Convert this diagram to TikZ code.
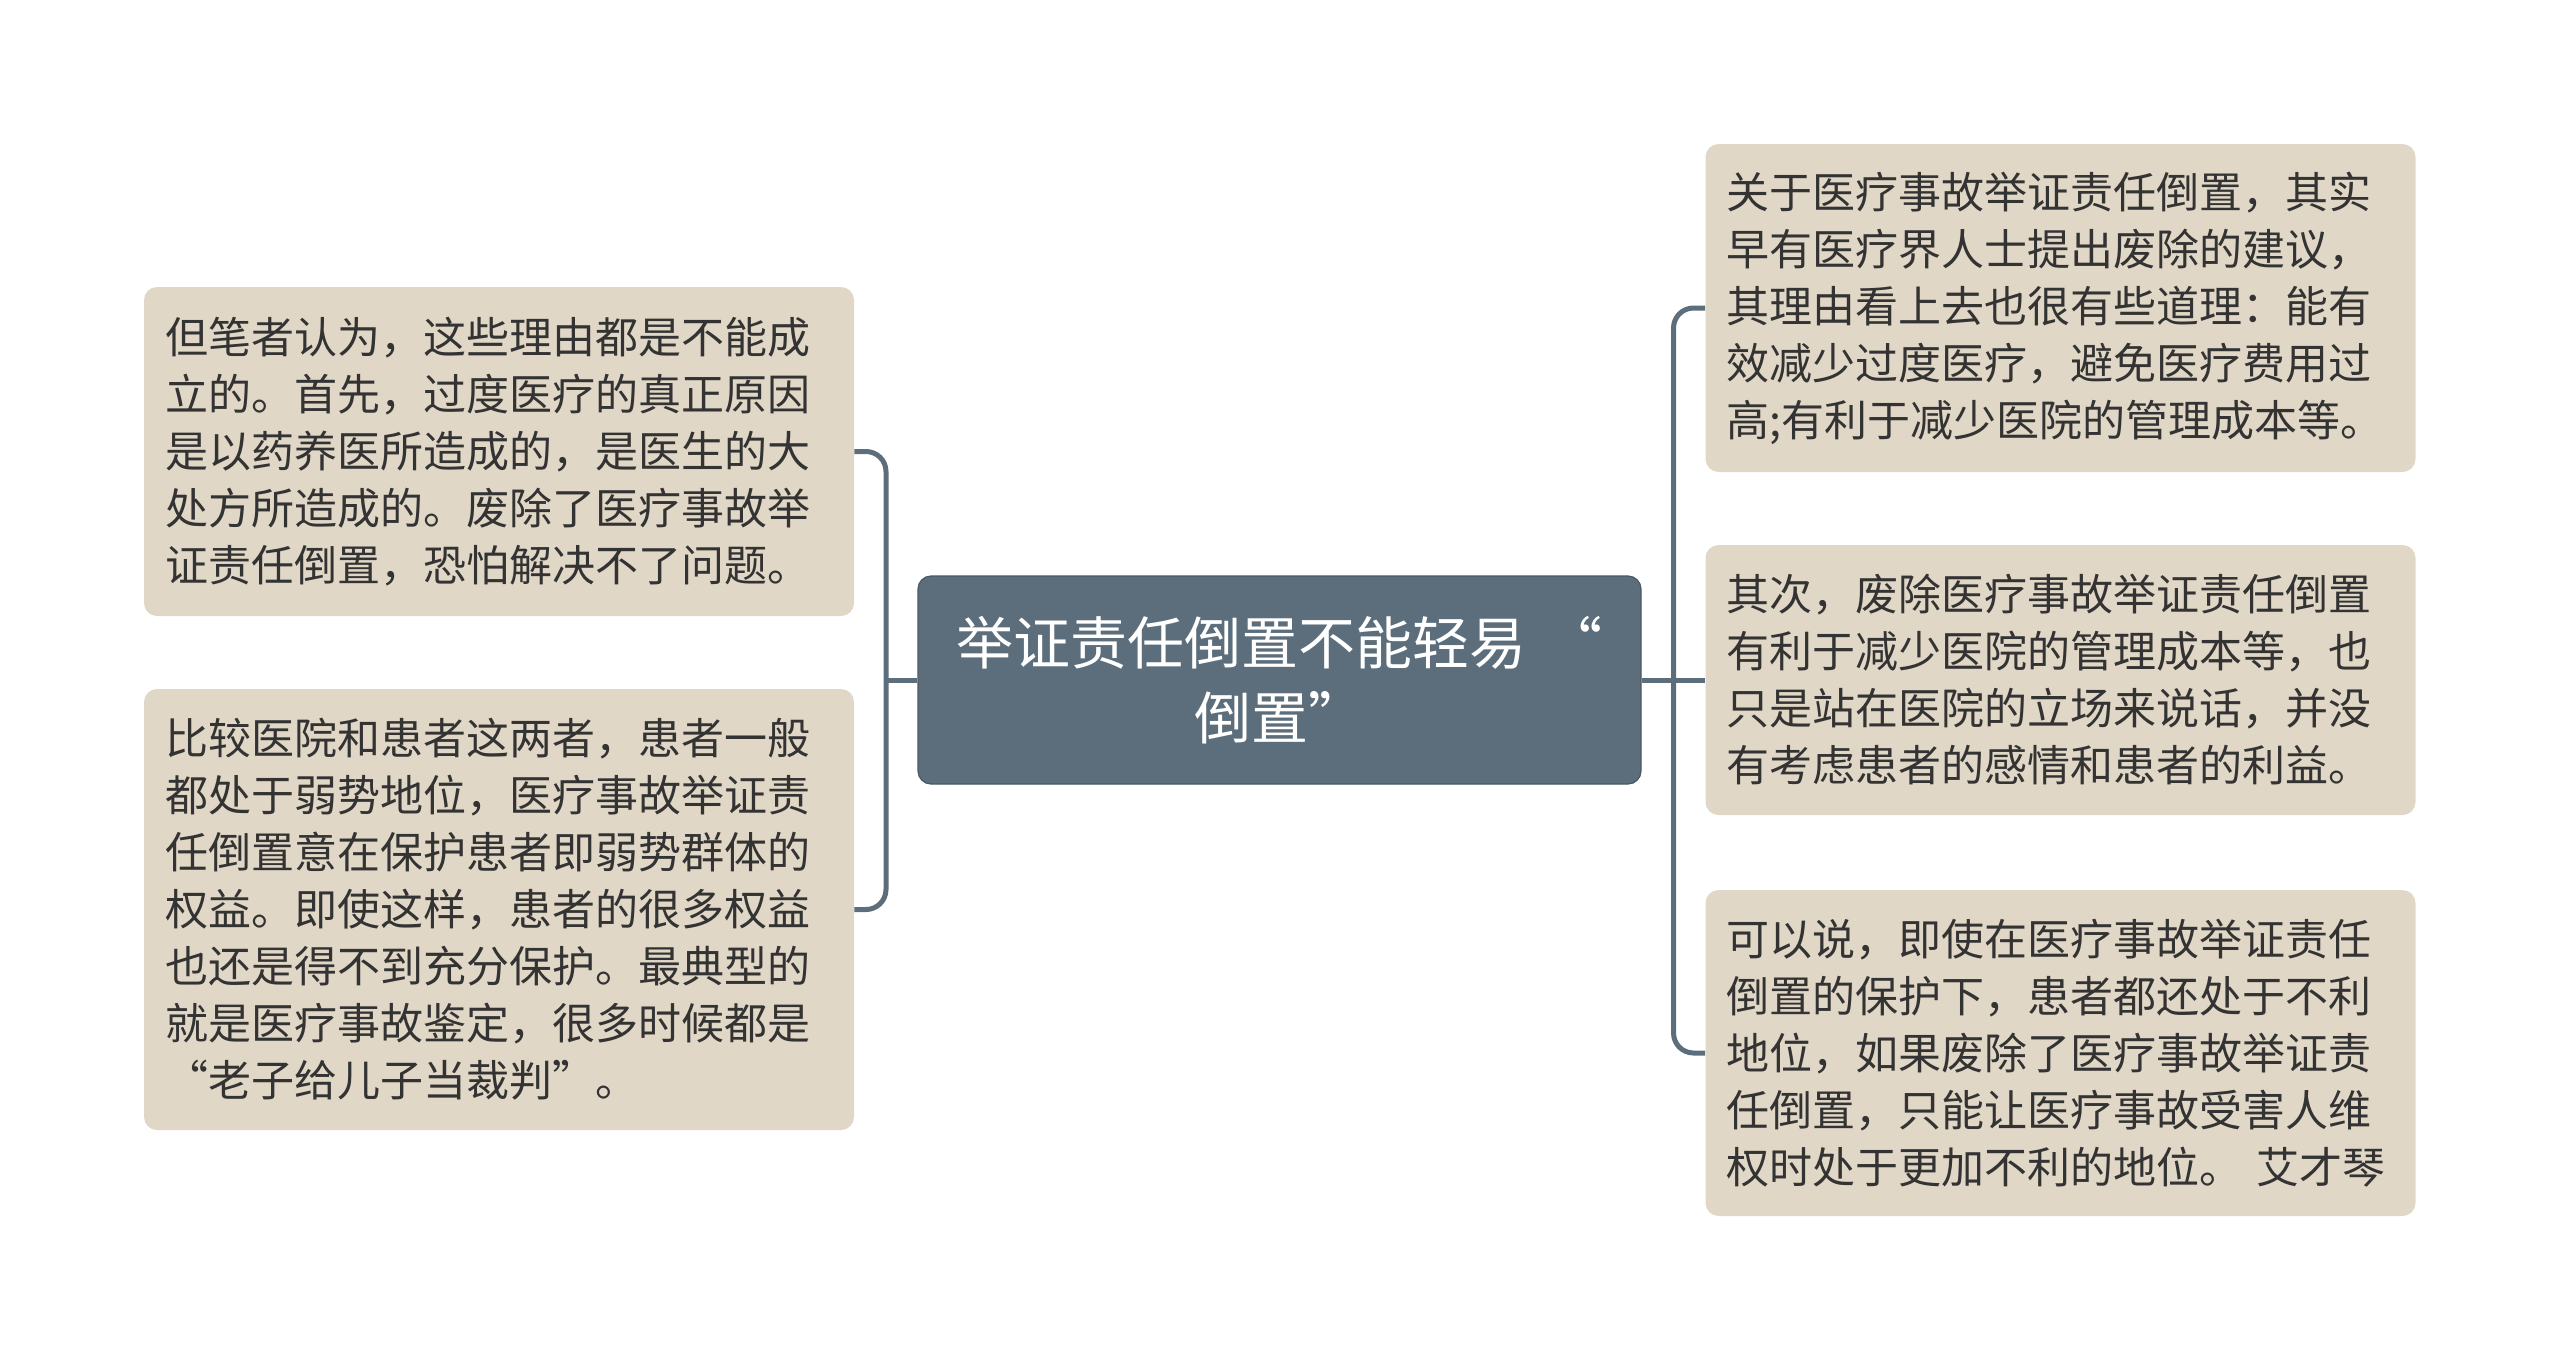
\documentclass[tikz,border=0pt]{standalone}
\usepackage{fontspec}
\newfontfamily\cjk{Noto Sans CJK SC}
\usepackage{tikz}
\usetikzlibrary{positioning}
\usetikzlibrary{calc}
\definecolor{leafFill}{HTML}{E1D7C6}
\definecolor{rootFill}{HTML}{5C6E7B}
\definecolor{linkCol}{HTML}{5C6E7B}
\definecolor{textCol}{HTML}{333333}
\tikzset{myboxLeaf/.style={fill=leafFill, rounded corners=6.5pt, text=textCol, align=left, inner xsep=10.5pt, text width=334pt, font=\cjk\fontsize{21.5pt}{28.5pt}\selectfont}}
\tikzset{myboxRoot/.style={fill=rootFill, draw=rootFill!80!black, line width=0.6pt, rounded corners=6.5pt, text=white, align=center, inner xsep=15.75pt, text width=330pt, minimum height=104pt, font=\cjk\fontsize{28.5pt}{37.5pt}\selectfont}}
\tikzset{myline/.style={draw=linkCol, line width=2.5pt, rounded corners=10pt}}

\begin{document}
\begin{tikzpicture}[x=0.5pt, y=-0.5pt]

\useasboundingbox (0,0) rectangle (2560,1361);

\node[myboxRoot] (root) at (1279.5, 680) {举证责任倒置不能轻易 “\\倒置”};

\node[myboxLeaf, minimum height=164.5pt] (l1) at (499, 451.5) {但笔者认为，这些理由都是不能成\\立的。首先，过度医疗的真正原因\\是以药养医所造成的，是医生的大\\处方所造成的。废除了医疗事故举\\证责任倒置，恐怕解决不了问题。};
\node[myboxLeaf, minimum height=220.5pt] (l2) at (499, 909.5) {比较医院和患者这两者，患者一般\\都处于弱势地位，医疗事故举证责\\任倒置意在保护患者即弱势群体的\\权益。即使这样，患者的很多权益\\也还是得不到充分保护。最典型的\\就是医疗事故鉴定，很多时候都是\\“老子给儿子当裁判”。};

\node[myboxLeaf, minimum height=164pt] (r1) at (2060.5, 308) {关于医疗事故举证责任倒置，其实\\早有医疗界人士提出废除的建议，\\其理由看上去也很有些道理：能有\\效减少过度医疗，避免医疗费用过\\高;有利于减少医院的管理成本等。};
\node[myboxLeaf, minimum height=135pt] (r2) at (2060.5, 680) {其次，废除医疗事故举证责任倒置\\有利于减少医院的管理成本等，也\\只是站在医院的立场来说话，并没\\有考虑患者的感情和患者的利益。};
\node[myboxLeaf, minimum height=163pt] (r3) at (2060.5, 1053) {可以说，即使在医疗事故举证责任\\倒置的保护下，患者都还处于不利\\地位，如果废除了医疗事故举证责\\任倒置，只能让医疗事故受害人维\\权时处于更加不利的地位。 艾才琴};

\coordinate (jl) at (886, 680);
\coordinate (jr) at (1673.5, 680);

\draw[myline] (root.west) -- (jl);
\draw[myline] (l1.east) -| (jl) |- (l2.east);

\draw[myline] (root.east) -- (jr) -- (r2.west);
\draw[myline] (r1.west) -| (jr) |- (r3.west);

\end{tikzpicture}
\end{document}
